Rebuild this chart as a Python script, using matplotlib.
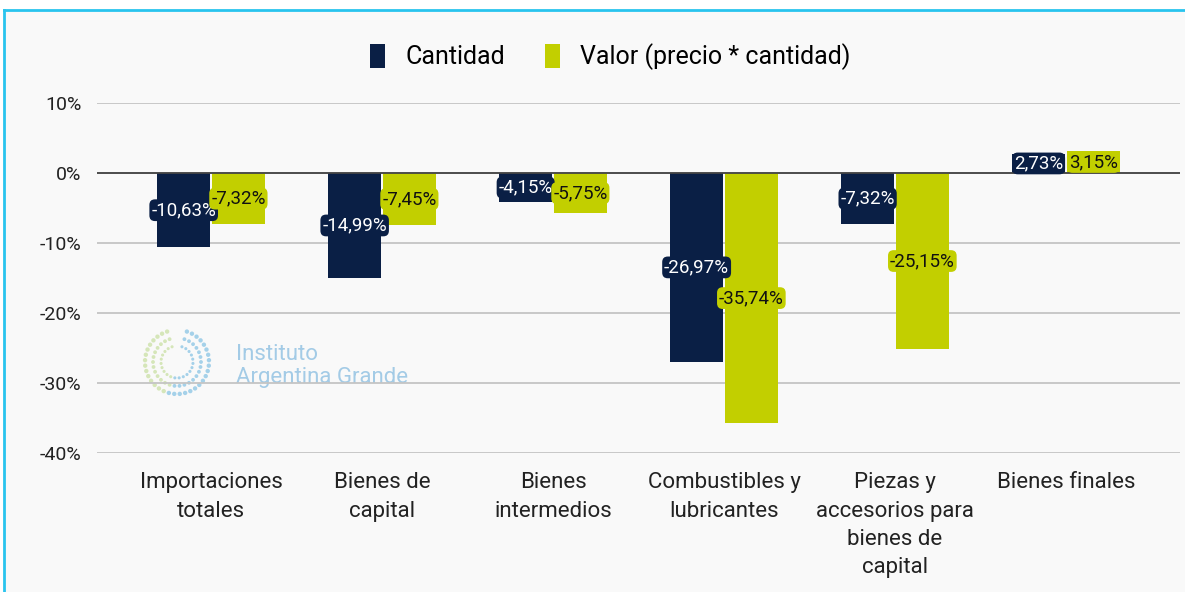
import numpy as np
import matplotlib.pyplot as plt
from matplotlib.lines import Line2D
from matplotlib.patches import Patch

# datos
categorias = ["Importaciones\ntotales", "Bienes de\ncapital", "Bienes\nintermedios",
              "Combustibles y\nlubricantes", "Piezas y\naccesorios para\nbienes de\ncapital",
              "Bienes finales"]
cantidad = [-10.63, -14.99, -4.15, -26.97, -7.32, 2.73]
valor = [-7.32, -7.45, -5.75, -35.74, -25.15, 3.15]

AZUL = "#0a1f45"
VERDE = "#c2cf00"
FONDO = "#f9f9f9"

plt.rcParams["font.family"] = ["Roboto", "DejaVu Sans"]

fig = plt.figure(figsize=(11.85, 5.92), dpi=100, facecolor="white")
# fondo del recuadro y borde celeste
fig.patches.append(plt.Rectangle((4 / 1185, 0), 1, 1 - 10 / 592, transform=fig.transFigure,
                                 facecolor=FONDO, edgecolor="none", zorder=-10))
fig.add_artist(Line2D([4 / 1185, 4 / 1185], [0, 1 - 10 / 592], color="#29c4ee", lw=2))
fig.add_artist(Line2D([4 / 1185, 1], [1 - 10 / 592, 1 - 10 / 592], color="#29c4ee", lw=2))

# logo (marca de agua), en pixeles de la figura
lax = fig.add_axes([0, 0, 1, 1], zorder=-1)
lax.set_axis_off()
lax.set_xlim(0, 1185)
lax.set_ylim(592, 0)
for k, r in enumerate([32, 24, 16]):
    a = np.linspace(0.1 * np.pi, 1.9 * np.pi, 34 - 6 * k) - np.pi / 2
    cols = ["#9ccde8" if np.cos(t) > -0.3 else "#d2e4b2" for t in a]
    lax.scatter(177 + r * np.cos(a), 362 + r * np.sin(a), s=10 - 2.5 * k, c=cols,
                edgecolors="none", alpha=0.9)
lax.text(236, 354, "Instituto", fontsize=16, color="#a3cbe6", va="center")
lax.text(236, 378, "Argentina Grande", fontsize=16, color="#a3cbe6", va="center")

ax = fig.add_axes([97 / 1185, 1 - 453 / 592, (1180 - 97) / 1185, 350 / 592])
ax.set_facecolor("none")

x = np.arange(len(categorias))
ancho = 0.31
b1 = ax.bar(x - 0.16, cantidad, ancho, color=AZUL, zorder=3)
b2 = ax.bar(x + 0.16, valor, ancho, color=VERDE, zorder=3)

for barras, vals, col, txt in [(b1, cantidad, AZUL, "white"), (b2, valor, VERDE, "#111111")]:
    for b, v in zip(barras, vals):
        etiqueta = f"{v:.2f}%".replace(".", ",")
        ax.text(b.get_x() + b.get_width() / 2, v / 2, etiqueta, ha="center", va="center",
                fontsize=13.5, color=txt, zorder=5,
                bbox=dict(boxstyle="round,pad=0.1,rounding_size=0.3", fc=col, ec="none"))

ax.set_ylim(-40, 10)
ax.set_xlim(-0.667, 5.667)
ax.set_yticks(np.arange(-40, 11, 10))
ax.set_yticklabels([f"{t}%" for t in range(-40, 11, 10)], fontsize=14, color="#222222")
ax.set_xticks(x)
ax.set_xticklabels(categorias, fontsize=16, color="#222222", linespacing=1.45)
ax.tick_params(length=0, axis="y", pad=11)
ax.tick_params(length=0, axis="x", pad=14)
ax.grid(axis="y", color="#c4c4c4", lw=1.3, zorder=0)
ax.axhline(0, color="#444444", lw=1.3, zorder=4)
for s in ax.spines.values():
    s.set_visible(False)

handles = [Patch(facecolor=AZUL, label="Cantidad"),
           Patch(facecolor=VERDE, label="Valor (precio * cantidad)")]
fig.legend(handles=handles, loc="center", bbox_to_anchor=(0.515, 1 - 57 / 592), ncol=2,
           frameon=False, fontsize=18, handlelength=0.6, handleheight=1.1,
           handletextpad=0.8, columnspacing=1.6)

fig.savefig("out.png", dpi=100, facecolor="white")
